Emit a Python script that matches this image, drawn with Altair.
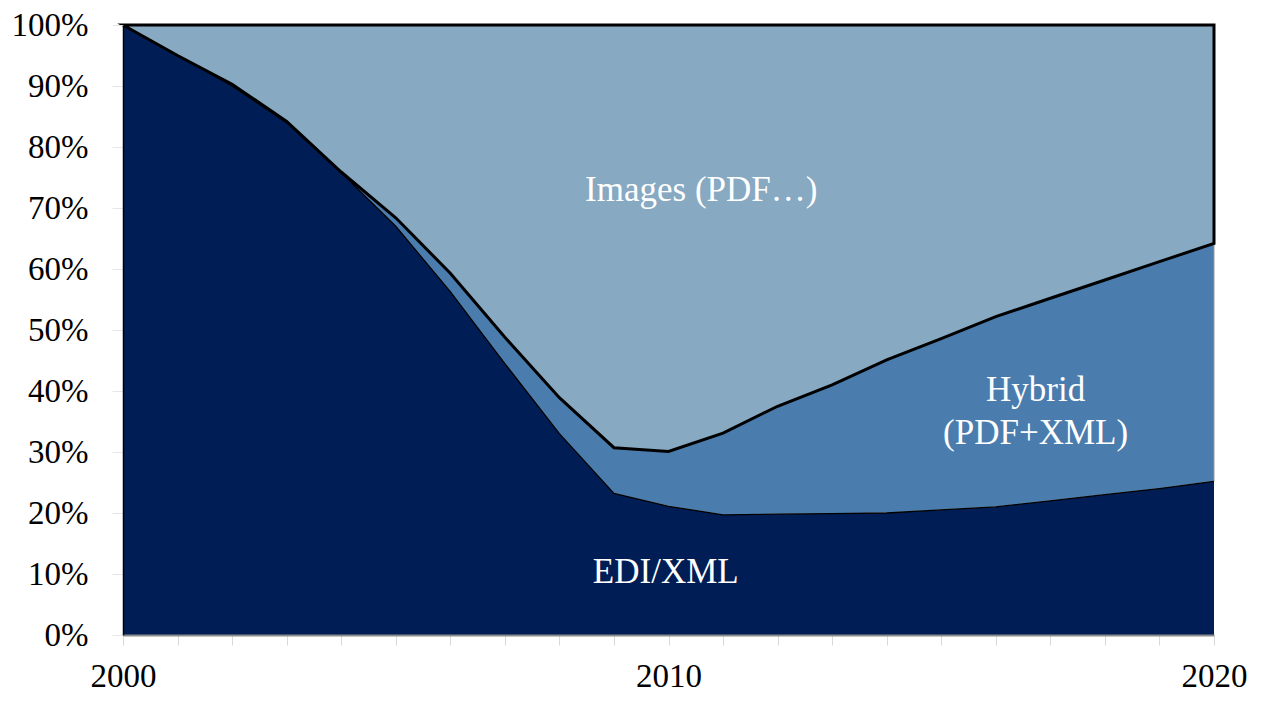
import altair as alt
import pandas as pd

years = list(range(2000, 2021))
edi_share = [100, 95, 90, 84, 75.8, 67, 56.3, 44.5, 33, 23.2, 21.1, 19.7, 19.8, 19.9, 20.0, 20.5, 21.0, 22.0, 23.0, 24.0, 25.2]
hybrid_share = [0, 0, 0.3, 0.2, 0.1, 1.4, 3.0, 4.3, 5.9, 7.5, 9.0, 13.4, 17.7, 21.1, 25.1, 28.1, 31.2, 33.2, 35.2, 37.2, 39.0]
images_share = [round(100 - e - h, 1) for e, h in zip(edi_share, hybrid_share)]

label_text = ["Images (PDF…)", "Hybrid", "(PDF+XML)", "EDI/XML"]
label_year = [2010.6, 2016.73, 2016.73, 2009.95]
label_pct = [73.0, 40.2, 33.1, 10.4]

df = pd.DataFrame({"year": years, "edi": edi_share, "hybrid": hybrid_share, "images": images_share})
df["top"] = df["edi"] + df["hybrid"]
df["full"] = df["top"] + df["images"]
df["zero"] = 0.0

labels = pd.DataFrame({"text": label_text, "year": label_year, "pct": label_pct})

FONT = "Liberation Serif"

x_scale = alt.Scale(domain=[2000, 2020], nice=False, zero=False)
y_scale = alt.Scale(domain=[0, 100], nice=False)

x_axis = alt.Axis(
    values=years,
    labelExpr="datum.value % 10 == 0 ? '' + datum.value : ''",
    title=None,
    grid=False,
    domainColor="#8c8c8c",
    domainWidth=2,
    tickColor="#d9d9d9",
    tickSize=10,
    tickWidth=1,
    labelPadding=15,
    labelFont=FONT,
    labelFontSize=33,
    labelColor="#000000",
    labelFlush=False,
    labelOverlap=False,
    zindex=2,
)
y_axis = alt.Axis(
    values=list(range(0, 101, 10)),
    labelExpr="datum.value + '%'",
    title=None,
    grid=False,
    domainColor="#000000",
    domainWidth=1.5,
    tickColor="#e6e6e6",
    tickSize=11,
    labelPadding=24,
    labelFont=FONT,
    labelFontSize=33,
    labelColor="#000000",
    zindex=2,
)

base = alt.Chart(df)

hybrid = base.mark_area(color="#4A7DAD", stroke="#9a9a9a", strokeWidth=1).encode(
    x=alt.X("year:Q", scale=x_scale, axis=x_axis),
    y=alt.Y("edi:Q", scale=y_scale, axis=y_axis),
    y2="top:Q",
)
edi = base.mark_area(color="#001E55").encode(
    x=alt.X("year:Q", scale=x_scale),
    y=alt.Y("zero:Q", scale=y_scale),
    y2="edi:Q",
)
edi_line = base.mark_line(color="#000000", strokeWidth=1.3).encode(
    x=alt.X("year:Q", scale=x_scale),
    y=alt.Y("edi:Q", scale=y_scale),
)
images = base.mark_area(color="#87A9C2", stroke="#000000", strokeWidth=3, strokeJoin="miter").encode(
    x=alt.X("year:Q", scale=x_scale),
    y=alt.Y("top:Q", scale=y_scale),
    y2="full:Q",
)
text = alt.Chart(labels).mark_text(
    font=FONT, fontSize=35, color="#ffffff", align="center", baseline="middle"
).encode(
    x=alt.X("year:Q", scale=x_scale),
    y=alt.Y("pct:Q", scale=y_scale),
    text="text:N",
)

chart = alt.layer(hybrid, edi, edi_line, images, text).properties(
    width=1091,
    height=610,
    autosize=alt.AutoSizeParams(type="none"),
    padding={"left": 115, "top": 17, "right": 40, "bottom": 59},
    background="#ffffff",
).configure_view(stroke=None)

chart.save("out.html", embed_options={"renderer": "svg", "actions": False})
